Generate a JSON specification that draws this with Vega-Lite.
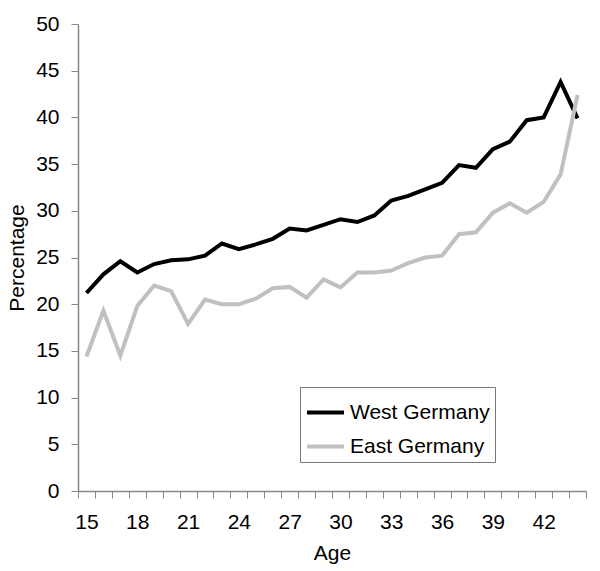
{
  "$schema": "https://vega.github.io/schema/vega-lite/v6.json",
  "width": 508,
  "height": 467,
  "autosize": "none",
  "padding": {"left": 78, "top": 24, "right": 14, "bottom": 80},
  "background": "white",
  "config": {
    "view": {"stroke": null},
    "font": "Liberation Sans",
    "axis": {"grid": false, "domainColor": "#888", "tickColor": "#888", "domainWidth": 1.5, "tickWidth": 1, "labelColor": "black", "titleColor": "black", "labelFontSize": 21, "titleFontSize": 21, "titleFontWeight": "normal", "tickSize": 7}
  },
  "data": {"values": [
    {"age": 15, "region": "West Germany", "pct": 21.2},
    {"age": 16, "region": "West Germany", "pct": 23.2},
    {"age": 17, "region": "West Germany", "pct": 24.6},
    {"age": 18, "region": "West Germany", "pct": 23.4},
    {"age": 19, "region": "West Germany", "pct": 24.3},
    {"age": 20, "region": "West Germany", "pct": 24.7},
    {"age": 21, "region": "West Germany", "pct": 24.8},
    {"age": 22, "region": "West Germany", "pct": 25.2},
    {"age": 23, "region": "West Germany", "pct": 26.5},
    {"age": 24, "region": "West Germany", "pct": 25.9},
    {"age": 25, "region": "West Germany", "pct": 26.4},
    {"age": 26, "region": "West Germany", "pct": 27.0},
    {"age": 27, "region": "West Germany", "pct": 28.1},
    {"age": 28, "region": "West Germany", "pct": 27.9},
    {"age": 29, "region": "West Germany", "pct": 28.5},
    {"age": 30, "region": "West Germany", "pct": 29.1},
    {"age": 31, "region": "West Germany", "pct": 28.8},
    {"age": 32, "region": "West Germany", "pct": 29.5},
    {"age": 33, "region": "West Germany", "pct": 31.1},
    {"age": 34, "region": "West Germany", "pct": 31.6},
    {"age": 35, "region": "West Germany", "pct": 32.3},
    {"age": 36, "region": "West Germany", "pct": 33.0},
    {"age": 37, "region": "West Germany", "pct": 34.9},
    {"age": 38, "region": "West Germany", "pct": 34.6},
    {"age": 39, "region": "West Germany", "pct": 36.6},
    {"age": 40, "region": "West Germany", "pct": 37.4},
    {"age": 41, "region": "West Germany", "pct": 39.7},
    {"age": 42, "region": "West Germany", "pct": 40.0},
    {"age": 43, "region": "West Germany", "pct": 43.8},
    {"age": 44, "region": "West Germany", "pct": 39.9},
    {"age": 15, "region": "East Germany", "pct": 14.4},
    {"age": 16, "region": "East Germany", "pct": 19.3},
    {"age": 17, "region": "East Germany", "pct": 14.5},
    {"age": 18, "region": "East Germany", "pct": 19.8},
    {"age": 19, "region": "East Germany", "pct": 22.0},
    {"age": 20, "region": "East Germany", "pct": 21.4},
    {"age": 21, "region": "East Germany", "pct": 17.9},
    {"age": 22, "region": "East Germany", "pct": 20.5},
    {"age": 23, "region": "East Germany", "pct": 20.0},
    {"age": 24, "region": "East Germany", "pct": 20.0},
    {"age": 25, "region": "East Germany", "pct": 20.6},
    {"age": 26, "region": "East Germany", "pct": 21.7},
    {"age": 27, "region": "East Germany", "pct": 21.85},
    {"age": 28, "region": "East Germany", "pct": 20.7},
    {"age": 29, "region": "East Germany", "pct": 22.65},
    {"age": 30, "region": "East Germany", "pct": 21.8},
    {"age": 31, "region": "East Germany", "pct": 23.4},
    {"age": 32, "region": "East Germany", "pct": 23.4},
    {"age": 33, "region": "East Germany", "pct": 23.6},
    {"age": 34, "region": "East Germany", "pct": 24.4},
    {"age": 35, "region": "East Germany", "pct": 25.0},
    {"age": 36, "region": "East Germany", "pct": 25.2},
    {"age": 37, "region": "East Germany", "pct": 27.5},
    {"age": 38, "region": "East Germany", "pct": 27.7},
    {"age": 39, "region": "East Germany", "pct": 29.8},
    {"age": 40, "region": "East Germany", "pct": 30.8},
    {"age": 41, "region": "East Germany", "pct": 29.8},
    {"age": 42, "region": "East Germany", "pct": 30.95},
    {"age": 43, "region": "East Germany", "pct": 33.9},
    {"age": 44, "region": "East Germany", "pct": 42.4}
  ]},
  "mark": {"type": "line", "strokeWidth": 4, "strokeJoin": "miter"},
  "encoding": {
    "x": {
      "field": "age", "type": "ordinal", "title": "Age",
      "scale": {"type": "band", "paddingInner": 0, "paddingOuter": 0},
      "axis": {"labelAngle": 0, "tickBand": "extent", "labelOverlap": false, "labelPadding": 13, "titlePadding": 10,
               "labelExpr": "(datum.value - 15) % 3 === 0 ? datum.label : ''"}
    },
    "y": {
      "field": "pct", "type": "quantitative", "title": "Percentage",
      "scale": {"domain": [0, 50], "nice": false, "zero": true},
      "axis": {"values": [0, 5, 10, 15, 20, 25, 30, 35, 40, 45, 50], "labelPadding": 12, "titlePadding": 8}
    },
    "color": {
      "field": "region", "type": "nominal",
      "scale": {"domain": ["West Germany", "East Germany"], "range": ["black", "#c0c0c0"]},
      "legend": {
        "title": null, "orient": "none", "legendX": 222, "legendY": 363,
        "symbolType": "stroke", "symbolSize": 1369, "symbolStrokeWidth": 4,
        "labelFontSize": 21, "labelOffset": 4, "rowPadding": 3,
        "padding": 5, "strokeColor": "#777", "fillColor": "white", "cornerRadius": 0
      }
    }
  }
}
